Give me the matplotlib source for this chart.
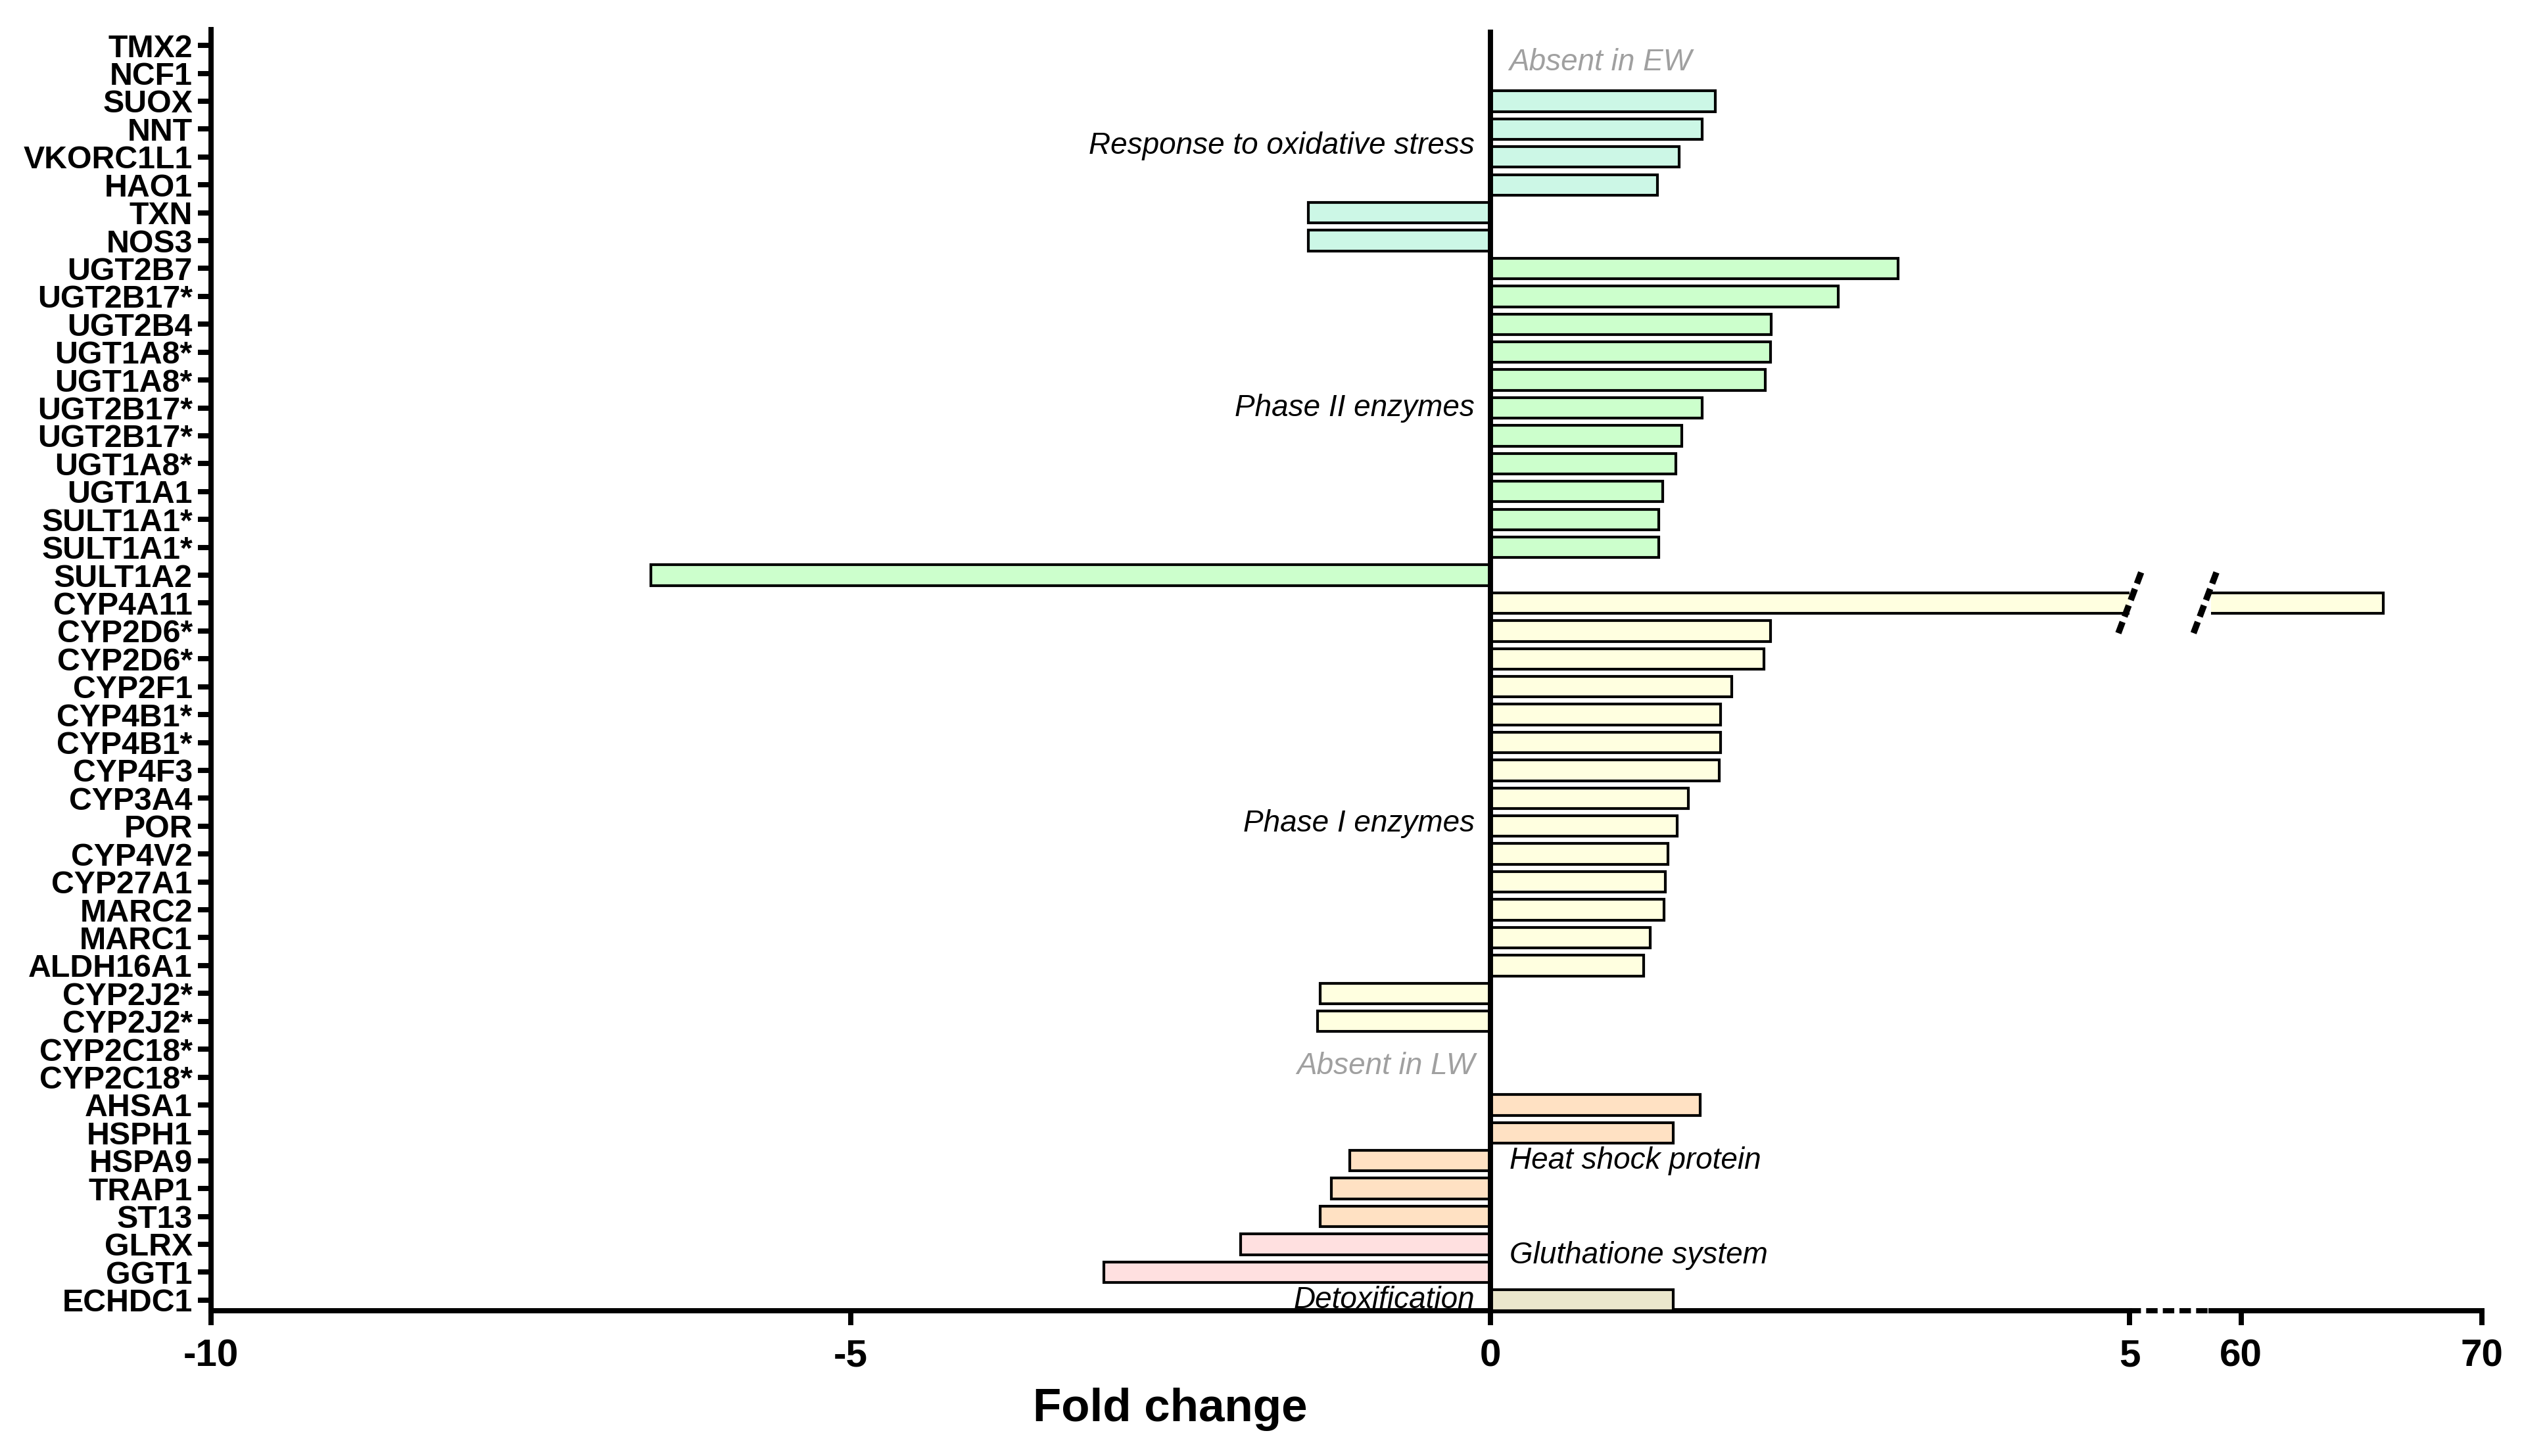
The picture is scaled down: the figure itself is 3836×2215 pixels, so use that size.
import matplotlib
matplotlib.use("Agg")
import matplotlib.pyplot as plt
import numpy as np

plt.rcParams['font.family'] = ['Liberation Sans', 'DejaVu Sans']

genes = ["TMX2", "NCF1", "SUOX", "NNT", "VKORC1L1", "HAO1", "TXN", "NOS3",
         "UGT2B7", "UGT2B17*", "UGT2B4", "UGT1A8*", "UGT1A8*", "UGT2B17*", "UGT2B17*",
         "UGT1A8*", "UGT1A1", "SULT1A1*", "SULT1A1*", "SULT1A2",
         "CYP4A11", "CYP2D6*", "CYP2D6*", "CYP2F1", "CYP4B1*", "CYP4B1*", "CYP4F3",
         "CYP3A4", "POR", "CYP4V2", "CYP27A1", "MARC2", "MARC1", "ALDH16A1",
         "CYP2J2*", "CYP2J2*", "CYP2C18*", "CYP2C18*",
         "AHSA1", "HSPH1", "HSPA9", "TRAP1", "ST13",
         "GLRX", "GGT1", "ECHDC1"]

# fold change (nan = absent)
fold = [np.nan, np.nan, 1.76, 1.66, 1.48, 1.31, -1.42, -1.42,
        3.19, 2.72, 2.20, 2.19, 2.15, 1.66, 1.50, 1.45, 1.35, 1.32, 1.32, -6.56,
        65.9, 2.19, 2.14, 1.89, 1.80, 1.80, 1.79, 1.55, 1.46, 1.39, 1.37, 1.36, 1.25, 1.20,
        -1.33, -1.35, np.nan, np.nan,
        1.64, 1.43, -1.10, -1.24, -1.33,
        -1.95, -3.02, 1.43]

group_sizes = [8, 12, 18, 5, 2, 1]
group_colors = ["#ccf7e6", "#ccffcc", "#ffffe0", "#ffe1c3", "#ffe0e0", "#ebe7cc"]

notes = [("Absent in EW", 0.6, "left", "#a0a0a0"),
         ("Response to oxidative stress", 3.6, "right", "black"),
         ("Phase II enzymes", 13.0, "right", "black"),
         ("Phase I enzymes", 27.9, "right", "black"),
         ("Absent in LW", 36.6, "right", "#a0a0a0"),
         ("Heat shock protein", 40.0, "left", "black"),
         ("Gluthatione system", 43.4, "left", "black"),
         ("Detoxification", 45.0, "right", "black")]

colors = []
for c, n in zip(group_colors, group_sizes):
    colors += [c] * n

y = np.arange(len(genes))
lw_ax = 1.9

fig = plt.figure(figsize=(3837 / 300, 2215 / 300), dpi=300)
ax1 = fig.add_axes([0.0837, 0.0998, 0.7605, 0.8799])
ax2 = fig.add_axes([0.8765, 0.0998, 0.1073, 0.8799])

for ax in (ax1, ax2):
    ax.barh(y, fold, height=0.74, color=colors, edgecolor="black", linewidth=1.0, zorder=3)
    ax.set_ylim(45.38, -0.57)
    for s in ("top", "right"):
        ax.spines[s].set_visible(False)
    ax.spines["bottom"].set_linewidth(lw_ax)
    ax.tick_params(axis="x", length=5.2, width=lw_ax, pad=5, labelsize=14)

ax1.set_xlim(-10, 5)
ax1.set_xticks([-10, -5, 0, 5])
ax1.set_xticklabels(["-10", "-5", "0", "5"], fontweight="bold", fontsize=14)
ax1.spines["left"].set_linewidth(lw_ax)
ax1.set_yticks(y)
ax1.set_yticklabels(genes, fontweight="bold", fontsize=11.6)
ax1.tick_params(axis="y", length=4.8, width=lw_ax, pad=2)
ax1.axvline(0, color="black", lw=lw_ax, zorder=4)
ax1.set_xlabel("Fold change", fontsize=17, fontweight="bold", labelpad=5)

ax2.set_xlim(58.76, 70)
ax2.set_xticks([60, 70])
ax2.set_xticklabels(["60", "70"], fontweight="bold", fontsize=14)
ax2.spines["left"].set_visible(False)
ax2.set_yticks([])

for text, row, ha, col in notes:
    xpos = 0.15 if ha == "left" else -0.12
    ax1.text(xpos, row, text, ha=ha, va="center", fontsize=11, style="italic",
             color=col, zorder=5)

# dashed gap on x axis between the two segments
x_a = ax1.get_position().x1
x_b = ax2.get_position().x0
y_ax = ax1.get_position().y0
fig.add_artist(plt.Line2D([x_a, x_b], [y_ax, y_ax], color="black", lw=lw_ax,
                          ls=(0, (2.2, 1.0)), solid_capstyle="butt"))

# break marks on CYP4A11 bar
r = genes.index("CYP4A11")
dash = (0, (1.9, 0.9))
ax1.plot([5.09, 4.91], [r - 1.1, r + 1.1], color="black", lw=2.3, ls=dash,
         clip_on=False, zorder=6)
ax2.plot([58.98, 58.02], [r - 1.1, r + 1.1], color="black", lw=2.3, ls=dash,
         clip_on=False, zorder=6)

fig.savefig("out.png", dpi=300)
